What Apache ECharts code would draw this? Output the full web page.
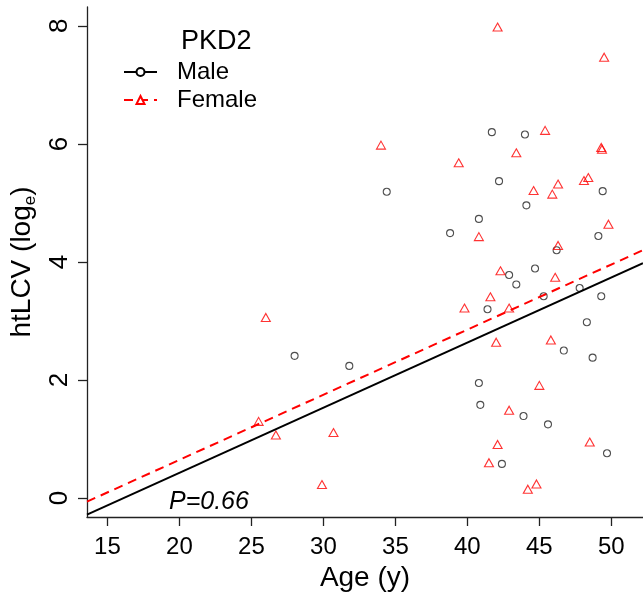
<!DOCTYPE html>
<html>
<head>
<meta charset="utf-8">
<script src="https://cdn.jsdelivr.net/npm/echarts@6/dist/echarts.min.js"></script>
<style>
  html, body { margin: 0; padding: 0; background: #fff; }
  #chart { width: 643px; height: 603px; }
</style>
</head>
<body>
<div id="chart"></div>
<script>
'use strict';

// data
var maleAge = [41.7, 44.0, 42.2, 34.4, 49.4, 44.1, 40.8, 38.8, 49.1, 46.2, 44.7, 42.9, 43.4, 47.8,
  45.3, 49.3, 41.4, 48.3, 46.7, 48.7, 31.8, 28.0, 40.8, 40.9, 43.9, 45.6, 49.7, 42.4];
var maleLCV = [6.20, 6.16, 5.37, 5.19, 5.20, 4.96, 4.73, 4.49, 4.44, 4.20, 3.89, 3.78, 3.62, 3.56,
  3.42, 3.42, 3.20, 2.98, 2.50, 2.38, 2.24, 2.41, 1.95, 1.58, 1.39, 1.25, 0.76, 0.58];

var femaleAge = [42.1, 49.5, 45.4, 34.0, 49.3, 49.35, 43.4, 39.4, 44.6, 46.3, 45.9, 48.1, 48.4, 40.8,
  49.8, 46.3, 42.3, 46.1, 41.6, 39.8, 42.9, 42.0, 45.8, 45.0, 42.9, 30.7, 42.1, 48.5, 41.5, 29.9,
  44.2, 44.8, 26.0, 25.5, 26.7];
var femaleLCV = [7.98, 7.47, 6.23, 5.98, 5.94, 5.91, 5.85, 5.68, 5.21, 5.32, 5.15, 5.38, 5.43, 4.43,
  4.64, 4.28, 3.85, 3.74, 3.41, 3.22, 3.22, 2.64, 2.68, 1.91, 1.49, 1.11, 0.91, 0.95, 0.60, 0.23,
  0.15, 0.24, 3.06, 1.30, 1.07];

// fitted lines (end points at the axis limits)
var fitAge = [13.58, 52.2];
var maleFit = [-0.28, 3.98];
var femaleFit = [-0.06, 4.20];

var xTicks = [15, 20, 25, 30, 35, 40, 45, 50];
var yTicks = [0, 2, 4, 6, 8];

var FONT = '"Liberation Sans", Arial, sans-serif';

function pairs(xs, ys) {
  return xs.map(function(x, i) { return [x, ys[i]]; });
}

var chart = echarts.init(document.getElementById('chart'), null, { renderer: 'canvas' });

chart.setOption({
  backgroundColor: '#fff',
  animation: false,
  textStyle: { fontFamily: FONT },
  title: [{
    text: 'PKD2',
    left: 176,
    top: 23,
    textStyle: { fontFamily: FONT, fontSize: 27, fontWeight: 'normal', color: '#000' }
  }, {
    text: 'P=0.66',
    left: 164,
    top: 485,
    textStyle: { fontFamily: FONT, fontSize: 25, fontWeight: 'normal', fontStyle: 'italic', color: '#000' }
  }],
  legend: {
    orient: 'vertical',
    left: 118,
    top: 55,
    itemWidth: 33,
    itemHeight: 10,
    itemGap: 4,
    data: ['Male', 'Female'],
    textStyle: { fontFamily: FONT, fontSize: 24, color: '#000', padding: [0, 0, 0, 15] }
  },
  grid: { left: 87, right: 0, top: 7, bottom: 86, containLabel: false },
  xAxis: {
    type: 'value',
    min: 13.58,
    max: 52.2,
    name: 'Age (y)',
    nameLocation: 'middle',
    nameGap: 36,
    nameTextStyle: { fontFamily: FONT, fontSize: 28, color: '#000' },
    axisLine: { show: true, onZero: false, lineStyle: { color: '#222', width: 1.3 } },
    axisTick: { show: true, inside: false, length: 9, customValues: xTicks, lineStyle: { color: '#222', width: 1.3 } },
    axisLabel: { customValues: xTicks, margin: 18, fontFamily: FONT, fontSize: 24, color: '#000' },
    splitLine: { show: false }
  },
  yAxis: {
    type: 'value',
    min: -0.32,
    max: 8.32,
    name: '{a|htLCV (log}{s|e}{a|)}',
    nameLocation: 'middle',
    nameRotate: 90,
    nameGap: 34,
    nameTextStyle: {
      fontFamily: FONT, fontSize: 28, color: '#000',
      rich: {
        a: { fontFamily: FONT, fontSize: 28, color: '#000', lineHeight: 34 },
        s: { fontFamily: FONT, fontSize: 17, color: '#000', lineHeight: 14, verticalAlign: 'bottom' }
      }
    },
    axisLine: { show: true, onZero: false, lineStyle: { color: '#222', width: 1.3 } },
    axisTick: { show: true, inside: false, length: 9, customValues: yTicks, lineStyle: { color: '#222', width: 1.3 } },
    axisLabel: { customValues: yTicks, rotate: 90, margin: 14, fontFamily: FONT, fontSize: 26, color: '#000' },
    splitLine: { show: false }
  },
  series: [{
    name: 'Male',
    type: 'line',
    data: pairs(fitAge, maleFit),
    showSymbol: false,
    symbol: 'emptyCircle',
    symbolSize: 8,
    itemStyle: { color: '#000' },
    lineStyle: { color: '#000', width: 2, type: 'solid' },
    silent: true,
    z: 3
  }, {
    name: 'Female',
    type: 'line',
    data: pairs(fitAge, femaleFit),
    showSymbol: false,
    symbol: 'emptyTriangle',
    symbolSize: [10, 9],
    itemStyle: { color: '#ff0000' },
    lineStyle: { color: '#ff0000', width: 2, type: [9, 6] },
    silent: true,
    z: 3
  }, {
    name: 'Male',
    type: 'scatter',
    data: pairs(maleAge, maleLCV),
    symbol: 'circle',
    symbolSize: 7,
    itemStyle: { color: 'transparent', borderColor: '#222', borderWidth: 1.1 },
    z: 2
  }, {
    name: 'Female',
    type: 'scatter',
    data: pairs(femaleAge, femaleLCV),
    symbol: 'triangle',
    symbolSize: [9, 8],
    itemStyle: { color: 'transparent', borderColor: '#ff0000', borderWidth: 1.1 },
    z: 2
  }]
});
</script>
</body>
</html>
